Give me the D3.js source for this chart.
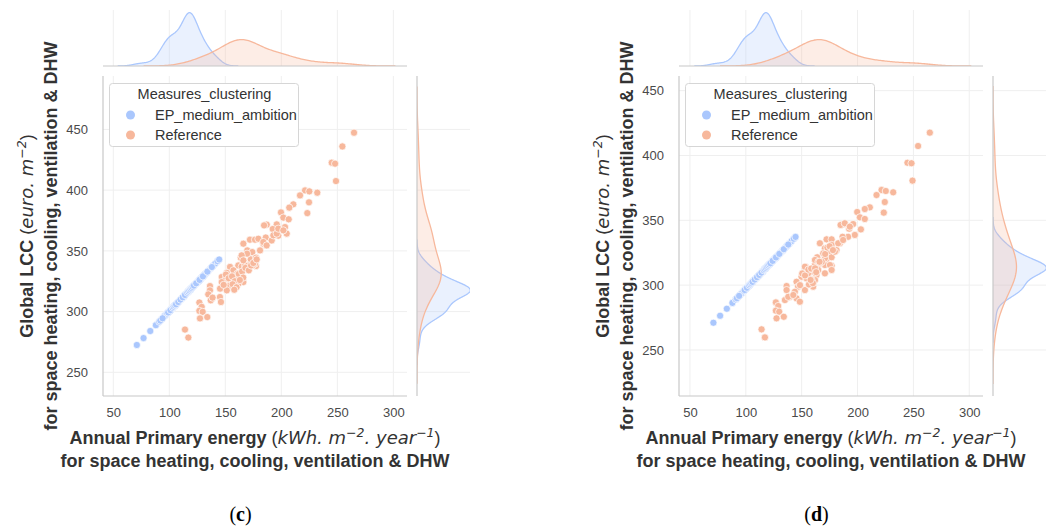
<!DOCTYPE html>
<html>
<head>
<meta charset="utf-8">
<script src="https://cdn.jsdelivr.net/npm/d3@7"></script>
<style>
  body { margin: 0; background: #fff; }
  svg { font-family: "Liberation Sans", Arial, sans-serif; }
</style>
</head>
<body>
<svg id="chart" width="1052" height="532"></svg>
<script>
const groups = ["EP_medium_ambition", "Reference"];
const colors = ["#aac7fd", "#f7b89c"];
const xTicks = [50, 100, 150, 200, 250, 300];
const yTicks = [250, 300, 350, 400, 450];

// EP_medium_ambition: same energy values in both panels
const energyEP = [71, 77, 83, 88, 91, 93, 95, 96, 97, 98, 99, 100, 100, 101, 102, 103, 104, 105, 106, 107,
    108, 109, 110, 111, 112, 113, 114, 114, 115, 115, 116, 116, 117, 117, 118, 118, 119, 119, 120, 120,
    121, 121, 122, 122, 123, 124, 125, 126, 127, 128, 129, 130, 131, 132, 133, 135, 137, 139, 141, 143, 144.5,
    96, 98, 99, 101, 103, 104, 105, 118, 119, 120, 126, 128, 131,
    92, 94, 113, 115, 116, 118, 119, 120, 106, 108, 110, 112, 114, 116, 117, 118, 119, 120, 121, 122,
    124, 127, 130, 134, 138];
const lccEP_c = [272.5, 278.2, 284.0, 288.8, 291.7, 293.6, 295.5, 296.5, 297.4, 298.4, 299.3, 300.3, 300.3, 301.2,
    302.2, 303.2, 304.1, 305.1, 306.0, 307.0, 307.9, 308.9, 309.9, 310.8, 311.8, 312.7, 313.7, 313.7, 314.7, 314.7,
    315.6, 315.6, 316.6, 316.6, 317.5, 317.5, 318.5, 318.5, 319.4, 319.4, 320.4, 320.4, 321.4, 321.4, 322.3, 323.3,
    324.2, 325.2, 326.1, 327.1, 328.1, 329.0, 330.0, 330.9, 331.9, 333.8, 335.7, 337.6, 339.6, 341.5, 342.9,
    296.5, 298.4, 299.3, 301.2, 303.2, 304.1, 305.1, 317.5, 318.5, 319.4, 325.2, 327.1, 330.0,
    292.6, 294.5, 312.7, 314.7, 315.6, 317.5, 318.5, 319.4, 306.0, 307.9, 309.9, 311.8, 313.7, 315.6, 316.6, 317.5,
    318.5, 319.4, 320.4, 321.4, 323.3, 326.1, 329.0, 332.9, 336.7];
const lccEP_d = [271.0, 276.4, 281.8, 286.3, 289.0, 290.8, 292.6, 293.5, 294.4, 295.3, 296.2, 297.1, 297.1, 298.0,
    298.9, 299.8, 300.7, 301.6, 302.5, 303.4, 304.3, 305.2, 306.1, 307.0, 307.9, 308.8, 309.7, 309.7, 310.6, 310.6,
    311.5, 311.5, 312.4, 312.4, 313.3, 313.3, 314.2, 314.2, 315.1, 315.1, 316.0, 316.0, 316.9, 316.9, 317.8, 318.7,
    319.6, 320.5, 321.4, 322.3, 323.2, 324.1, 325.0, 325.9, 326.8, 328.6, 330.4, 332.2, 334.0, 335.8, 337.2,
    293.5, 295.3, 296.2, 298.0, 299.8, 300.7, 301.6, 313.3, 314.2, 315.1, 320.5, 322.3, 325.0,
    289.9, 291.7, 308.8, 310.6, 311.5, 313.3, 314.2, 315.1, 302.5, 304.3, 306.1, 307.9, 309.7, 311.5, 312.4, 313.3,
    314.2, 315.1, 316.0, 316.9, 318.7, 321.4, 324.1, 327.7, 331.3];

// Reference, panel (c)
const energyRef_c = [264.9, 254.5, 245, 248, 248.8, 232.1, 221.2, 225, 216.7, 224.7, 223.2, 210.7, 207.1, 199.7,
    201.8, 206.6, 195.9, 202.4, 187, 184.6, 192.3, 186.1, 197.3, 172, 176.5, 166.1, 183.9, 169.6, 174.1, 181,
    163.8, 172.7, 177.4, 170.5, 177.4, 161.6, 164.6, 154.2, 157.2, 160.7, 151.3, 146.8, 150.6, 154.2, 163.1,
    166.1, 161.6, 157.2, 146.8, 154.2, 151.3, 145.3, 136.3, 136.3, 134.8, 137, 138.6, 145.2, 146.1, 126.8,
    128.9, 126.8, 129.8, 127.4, 133.9, 114, 117, 169.4, 167.6, 159.6, 164.6, 166.1, 179.5, 176.5, 174.5,
    183.9, 186.9, 191.4, 192.9, 195.9, 197.3, 203.3, 204.8, 201.8,
    150.5, 153, 156, 158.5, 162, 165, 168, 171, 173, 156.5, 160, 148.5, 166, 175, 178, 158, 163];
const lccRef_c = [447.3, 436, 422.6, 421.8, 407.5, 397.9, 399.8, 399, 395.7, 390, 381.1, 388.3, 385.6, 381.7,
    377.4, 376, 371.8, 367.4, 371.6, 371, 368, 361, 362.5, 359.2, 359.2, 355.9, 355.9, 350.4, 349, 350.4,
    344.4, 343, 344.4, 338, 337.5, 338, 337, 336.8, 334, 331.2, 331.9, 328.5, 327.1, 325.7, 328.4,
    324.3, 323, 321.6, 324.3, 321.6, 317.5, 318.9, 321, 317.5, 314.2, 309.3, 311.5, 312, 307.9, 307.5,
    303.9, 300.6, 299.8, 294.4, 295.5, 285.2, 278.6, 347.7, 338, 327.1, 346.3, 342.2, 360, 339.5, 338,
    357.3, 354.5, 358.6, 362.8, 364.2, 368.3, 369.6, 364.2, 366.9,
    330.5, 327.5, 329, 325, 331, 333, 336, 334, 338, 322.5, 320, 322, 328, 340, 343, 318, 326];

// Reference, panel (d)
const energyRef_d = [264.7, 254.2, 244.7, 248.3, 249.2, 231.9, 221.5, 225.3, 217, 224.4, 223.5, 211, 206.5, 199.7,
    202.1, 206.5, 196.1, 203, 187.1, 184.8, 192.5, 191.6, 197.6, 186.6, 172.3, 176.8, 166.3, 184.2, 170.8, 174.6,
    181.2, 163.9, 172.3, 176.8, 170.8, 176.8, 161.9, 153.8, 158.9, 163.3, 149.9, 154.4, 161.9, 145.4, 136.5,
    136.5, 135, 145.4, 148.4, 139.4, 126.9, 129, 126.9, 129.9, 127.5, 134, 114.1, 117.1, 188.6, 193.1, 169.3,
    176.8, 179.7, 182.7, 187.1, 166.3, 170.8, 175.3, 164.8, 170.8, 176.8, 152.9, 155.8, 158.9, 160.3, 146.8,
    143.9, 152.9, 138, 142.5, 161.9,
    150.5, 153, 156, 158.5, 162, 165, 168, 171, 173, 156.5, 160, 148.5, 166, 175, 178, 158, 163];
const lccRef_d = [417.6, 407.3, 394.4, 394, 380.6, 371.6, 373.4, 372.6, 369.5, 364.1, 355.9, 360, 358.7, 356.4,
    352.3, 351, 347.1, 343, 346.9, 346.4, 343.5, 337.3, 338.7, 337.3, 335.3, 335.3, 332.3, 332.3, 328.4, 325.8,
    327.1, 321.5, 320.1, 321.5, 315.5, 315, 315.5, 314.2, 310.3, 307.8, 306.5, 305.2, 303.9, 302.6, 299.3,
    296.2, 288.5, 289.8, 287.2, 291, 286.7, 283.9, 280.3, 279.5, 274.4, 275.6, 265.9, 259.7, 347.7, 345.1, 324.5,
    331, 325.8, 332.3, 334.8, 316.8, 320.7, 315.5, 311.7, 309.1, 311.7, 314.2, 309.1, 304, 298.8, 298.8,
    294.9, 296.2, 291, 292.4, 319.4,
    309, 307.5, 312, 312.8, 313, 318, 318, 324, 329, 300.5, 301.5, 300, 318, 330, 327, 304, 310];

const panels = [
    {tag: "c", left: 103, xDomain: [40.8, 312.2], yDomain: [230.5, 494],
     series: [[energyEP, lccEP_c], [energyRef_c, lccRef_c]]},
    {tag: "d", left: 679, xDomain: [40.2, 312.3], yDomain: [214.5, 461.3],
     series: [[energyEP, lccEP_d], [energyRef_d, lccRef_d]]}
];

const plotTop = 76, width = 304, height = 320;
const margTop = 10, margH = 56, margGap = 10, margW = 53;
const gridColor = "#efefef", spineColor = "#c8c8c8";

const svg = d3.select("#chart");

// gaussian kde, scott bandwidth, cut = 3 (like seaborn)
const kde = function(values, total) {
    const n = values.length;
    const sd = d3.deviation(values);
    const bw = sd * Math.pow(n, -0.2);
    const lo = d3.min(values) - 3 * bw, hi = d3.max(values) + 3 * bw;
    const pts = [];
    for (let i = 0; i < 200; i++) {
        const g = lo + (hi - lo) * i / 199;
        const s = d3.sum(values, function(v) { return Math.exp(-0.5 * ((g - v) / bw) ** 2); });
        pts.push([g, s / (n * bw * Math.sqrt(2 * Math.PI)) * n / total]);
    }
    return pts;
};

const addMathLabel = function(text, parts) {
    parts.forEach(function(p) {
        const t = text.append("tspan").text(p.t);
        if (p.it) t.attr("font-family", "DejaVu Sans").attr("font-style", "italic").attr("font-weight", "normal");
        if (p.plain) t.attr("font-weight", "normal");
        if (p.sup) t.attr("font-family", "DejaVu Sans").attr("font-style", "italic").attr("font-weight", "normal")
            .attr("font-size", 12.5).attr("dy", -7);
        if (p.down) t.attr("dy", 7);
    });
};

const drawPanel = function(p) {
    const x = d3.scaleLinear().domain(p.xDomain).range([p.left, p.left + width]);
    const y = d3.scaleLinear().domain(p.yDomain).range([plotTop + height, plotTop]);
    const clipId = "clip" + p.tag;
    const mx0 = p.left + width + margGap;

    const defs = svg.append("defs");
    defs.append("clipPath").attr("id", clipId + "x").append("rect")
        .attr("x", p.left).attr("y", margTop).attr("width", width).attr("height", margH);
    defs.append("clipPath").attr("id", clipId + "y").append("rect")
        .attr("x", mx0).attr("y", plotTop).attr("width", margW).attr("height", height);

    // grid lines
    const grid = svg.append("g").attr("stroke", gridColor).attr("stroke-width", 1);
    xTicks.forEach(function(t) {
        grid.append("line").attr("x1", x(t)).attr("x2", x(t)).attr("y1", plotTop).attr("y2", plotTop + height);
        grid.append("line").attr("x1", x(t)).attr("x2", x(t)).attr("y1", margTop).attr("y2", margTop + margH);
    });
    yTicks.forEach(function(t) {
        grid.append("line").attr("x1", p.left).attr("x2", p.left + width).attr("y1", y(t)).attr("y2", y(t));
        grid.append("line").attr("x1", mx0).attr("x2", mx0 + margW).attr("y1", y(t)).attr("y2", y(t));
    });

    // marginal kdes
    const total = d3.sum(p.series, function(s) { return s[0].length; });
    const kx = p.series.map(function(s) { return kde(s[0], total); });
    const ky = p.series.map(function(s) { return kde(s[1], total); });
    const dx = d3.scaleLinear().domain([0, 1.05 * d3.max(kx, function(c) { return d3.max(c, function(d) { return d[1]; }); })])
        .range([margTop + margH, margTop]);
    const dy = d3.scaleLinear().domain([0, 1.05 * d3.max(ky, function(c) { return d3.max(c, function(d) { return d[1]; }); })])
        .range([mx0, mx0 + 56]);

    const areaX = d3.area().x(function(d) { return x(d[0]); }).y0(dx(0)).y1(function(d) { return dx(d[1]); });
    const lineX = d3.line().x(function(d) { return x(d[0]); }).y(function(d) { return dx(d[1]); });
    const areaY = d3.area().y(function(d) { return y(d[0]); }).x0(dy(0)).x1(function(d) { return dy(d[1]); });
    const lineY = d3.line().y(function(d) { return y(d[0]); }).x(function(d) { return dy(d[1]); });

    const gx = svg.append("g").attr("clip-path", "url(#" + clipId + "x)");
    const gy = svg.append("g").attr("clip-path", "url(#" + clipId + "y)");
    [0, 1].forEach(function(i) {
        gx.append("path").attr("d", areaX(kx[i])).attr("fill", colors[i]).attr("fill-opacity", 0.25);
        gx.append("path").attr("d", lineX(kx[i])).attr("fill", "none").attr("stroke", colors[i]).attr("stroke-width", 1.3);
        gy.append("path").attr("d", areaY(ky[i])).attr("fill", colors[i]).attr("fill-opacity", 0.25);
        gy.append("path").attr("d", lineY(ky[i])).attr("fill", "none").attr("stroke", colors[i]).attr("stroke-width", 1.3);
    });

    // spines
    const sp = svg.append("g").attr("stroke", spineColor).attr("stroke-width", 1.2);
    sp.append("line").attr("x1", p.left).attr("x2", p.left).attr("y1", plotTop).attr("y2", plotTop + height);
    sp.append("line").attr("x1", p.left).attr("x2", p.left + width).attr("y1", plotTop + height).attr("y2", plotTop + height);
    sp.append("line").attr("x1", p.left).attr("x2", p.left + width).attr("y1", margTop + margH).attr("y2", margTop + margH);
    sp.append("line").attr("x1", mx0).attr("x2", mx0).attr("y1", plotTop).attr("y2", plotTop + height);

    // scatter
    p.series.forEach(function(s, i) {
        svg.append("g").selectAll("circle")
            .data(s[0].map(function(v, j) { return [v, s[1][j]]; }))
            .join("circle")
            .attr("cx", function(d) { return x(d[0]); })
            .attr("cy", function(d) { return y(d[1]); })
            .attr("r", 3.6)
            .attr("fill", colors[i])
            .attr("stroke", "#fff")
            .attr("stroke-width", 0.7);
    });

    // tick labels
    svg.append("g")
        .attr("transform", "translate(0," + (plotTop + height) + ")")
        .call(d3.axisBottom(x).tickValues(xTicks).tickSize(0).tickPadding(11.5))
        .call(function(g) { g.select(".domain").remove(); })
        .selectAll("text").attr("font-size", 13).attr("fill", "#4a4a4a").attr("font-family", "Liberation Sans, Arial");
    svg.append("g")
        .attr("transform", "translate(" + p.left + ",0)")
        .call(d3.axisLeft(y).tickValues(yTicks).tickSize(0).tickPadding(15))
        .call(function(g) { g.select(".domain").remove(); })
        .selectAll("text").attr("font-size", 13).attr("fill", "#4a4a4a").attr("font-family", "Liberation Sans, Arial");

    // legend
    const lg = svg.append("g").attr("transform", "translate(" + (p.left + 6.5) + ",83.5)");
    lg.append("rect").attr("width", 189).attr("height", 63).attr("rx", 3)
        .attr("fill", "#fff").attr("stroke", "#d6d6d6");
    lg.append("text").attr("x", 95).attr("y", 15.5).attr("text-anchor", "middle")
        .attr("font-size", 14.5).attr("fill", "#333").text("Measures_clustering");
    groups.forEach(function(name, i) {
        lg.append("circle").attr("cx", 21).attr("cy", 31.5 + i * 20).attr("r", 4.5).attr("fill", colors[i]);
        lg.append("text").attr("x", 45.5).attr("y", 36 + i * 20)
            .attr("font-size", 14.5).attr("fill", "#333").text(name);
    });

    // x label
    const cx = p.left + width / 2;
    const xl1 = svg.append("text").attr("x", cx).attr("y", plotTop + height + 47.5).attr("text-anchor", "middle")
        .attr("font-size", 18).attr("font-weight", "bold").attr("fill", "#333");
    addMathLabel(xl1, [{t: "Annual Primary energy "}, {t: "(", plain: true}, {t: "kWh. m", it: true},
        {t: "\u22122", sup: true}, {t: ". year", it: true, down: true}, {t: "\u22121", sup: true}, {t: ")", plain: true, down: true}]);
    svg.append("text").attr("x", cx).attr("y", plotTop + height + 70.5).attr("text-anchor", "middle")
        .attr("font-size", 18).attr("font-weight", "bold").attr("fill", "#333")
        .text("for space heating, cooling, ventilation & DHW");

    // y label
    const cy = plotTop + height / 2;
    const yl1 = svg.append("text").attr("transform", "translate(" + (p.left - 70) + "," + cy + ") rotate(-90)")
        .attr("text-anchor", "middle").attr("font-size", 18).attr("font-weight", "bold").attr("fill", "#333");
    addMathLabel(yl1, [{t: "Global LCC "}, {t: "(", plain: true}, {t: "euro. m", it: true},
        {t: "\u22122", sup: true}, {t: ")", plain: true, down: true}]);
    svg.append("text").attr("transform", "translate(" + (p.left - 46) + "," + cy + ") rotate(-90)")
        .attr("text-anchor", "middle").attr("font-size", 18).attr("font-weight", "bold").attr("fill", "#333")
        .text("for space heating, cooling, ventilation & DHW");

    // panel caption
    const cap = svg.append("text").attr("x", cx - 14.5).attr("y", 521).attr("text-anchor", "middle")
        .attr("font-family", "Liberation Serif, Times New Roman, serif").attr("font-size", 20).attr("fill", "#000");
    cap.append("tspan").text("(");
    cap.append("tspan").attr("font-weight", "bold").text(p.tag);
    cap.append("tspan").text(")");
};

panels.forEach(drawPanel);
</script>
</body>
</html>
